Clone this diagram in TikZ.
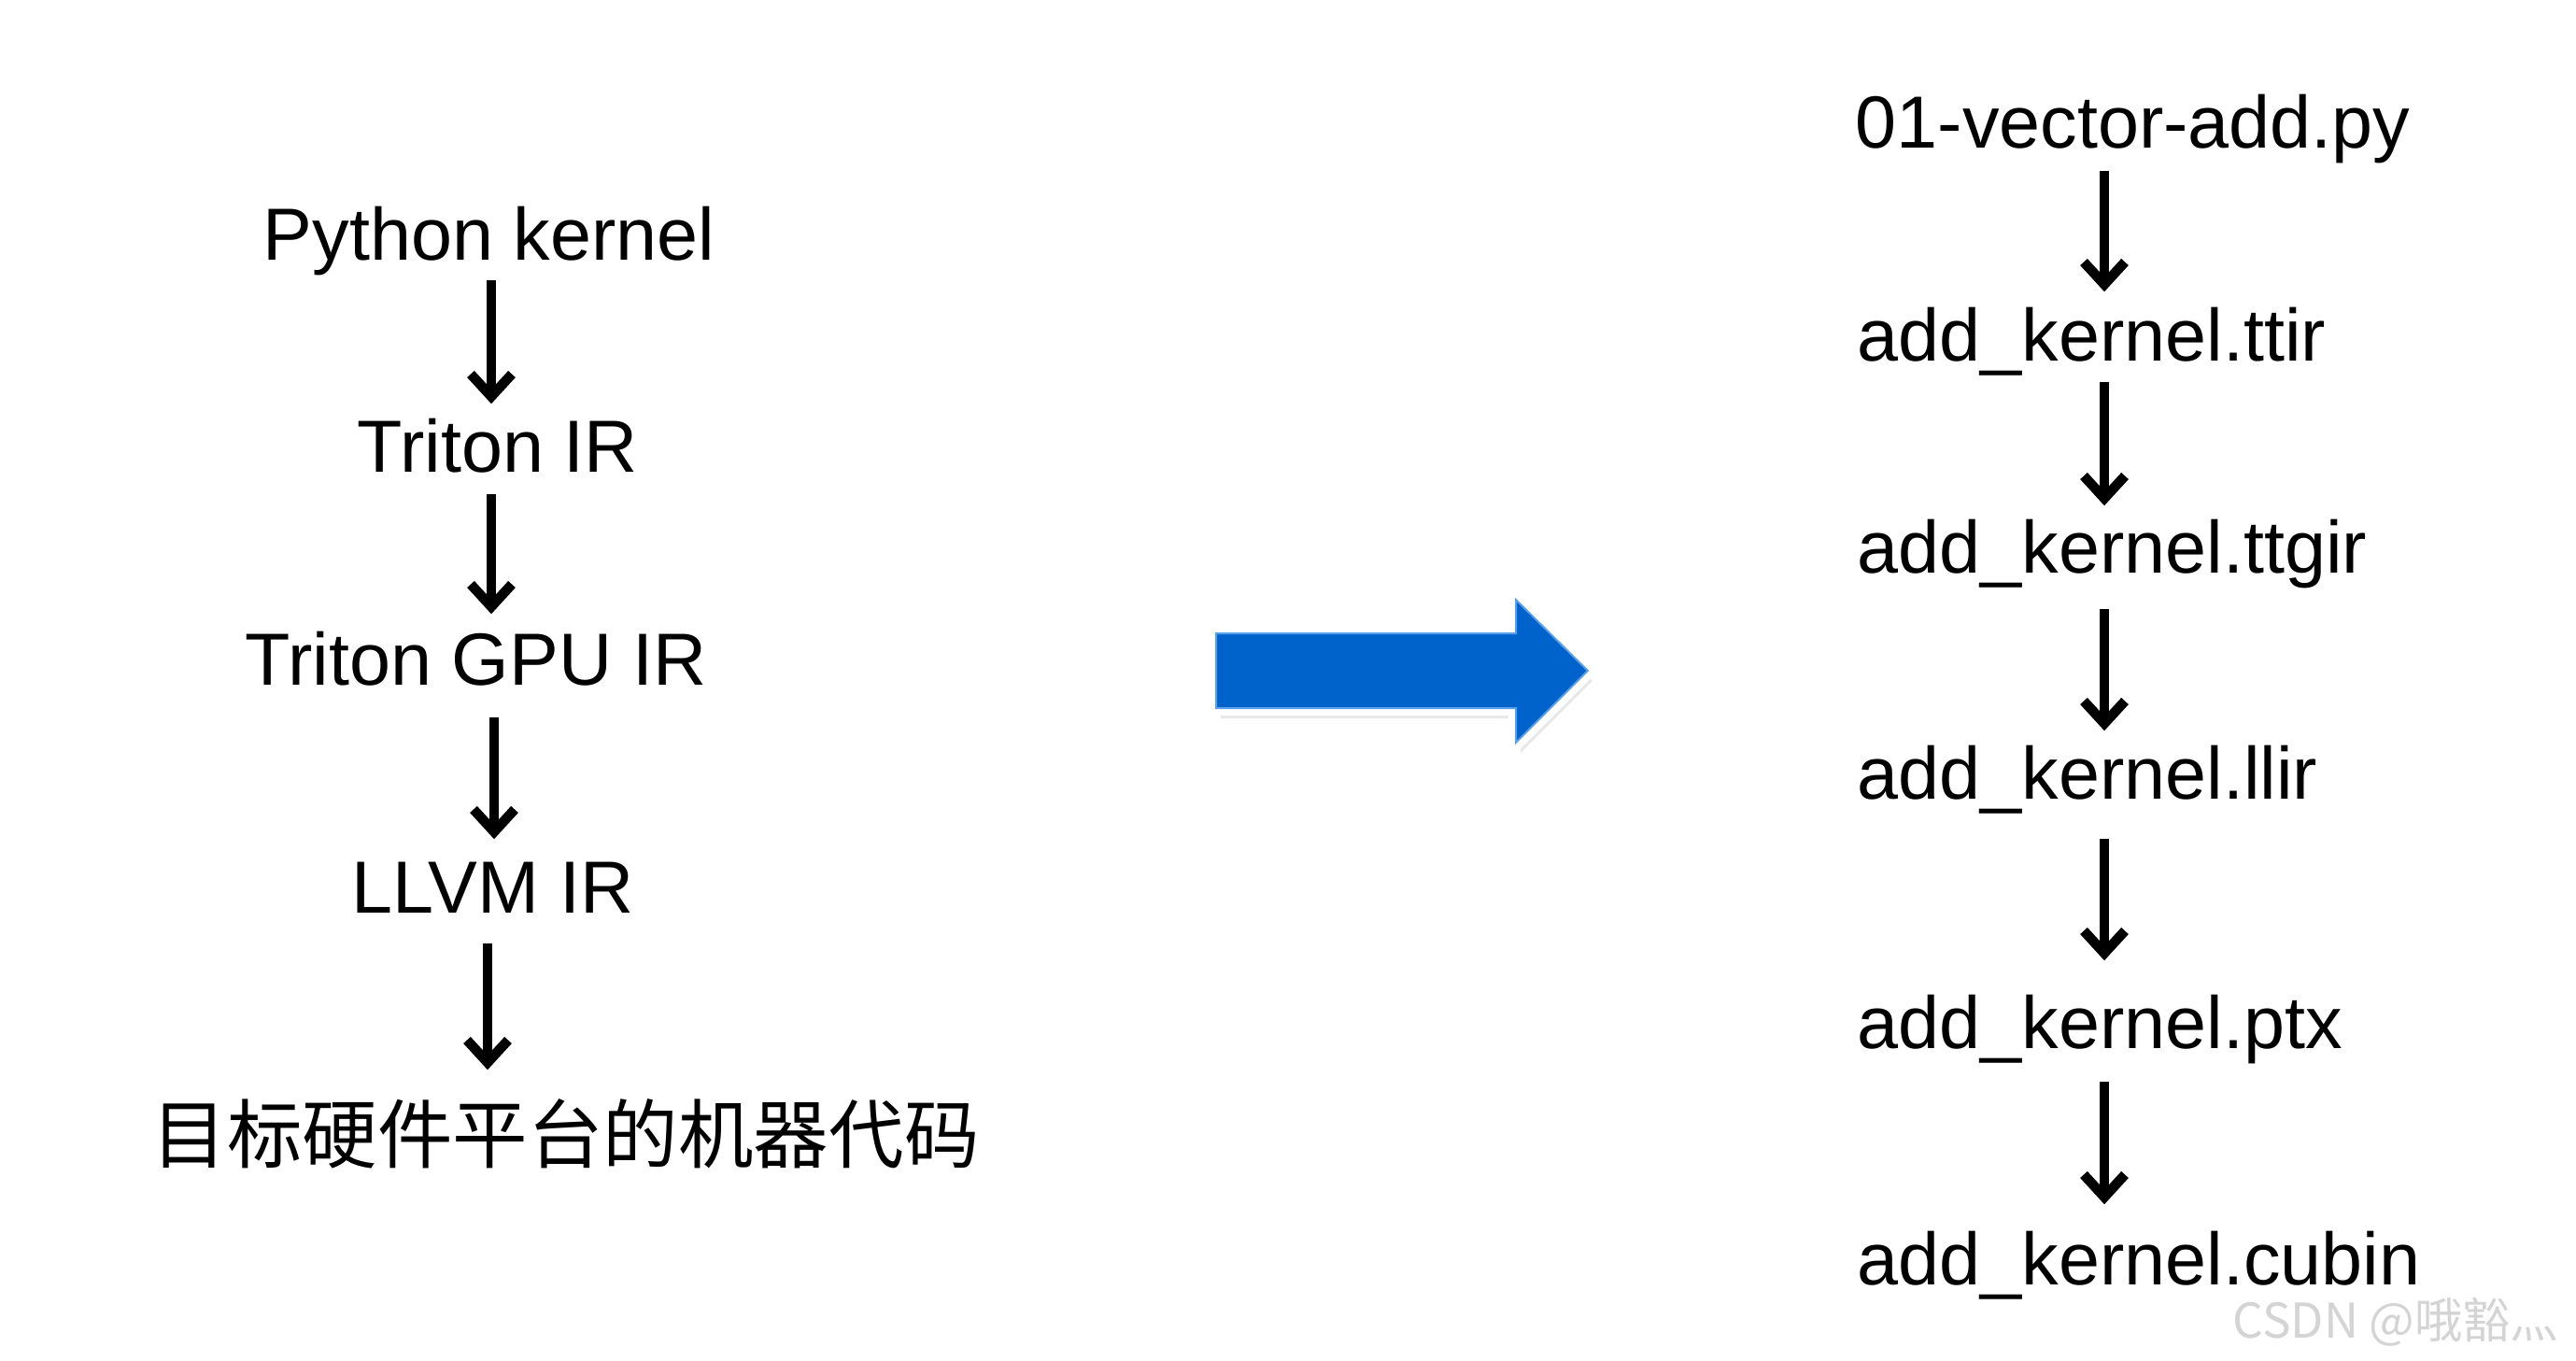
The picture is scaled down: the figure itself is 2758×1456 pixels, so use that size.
\documentclass[tikz,border=0pt]{standalone}
\usepackage{fontspec}
\setmainfont{Liberation Sans}
\newfontfamily\cjk{Noto Sans CJK SC}
\usetikzlibrary{arrows.meta}
\definecolor{arrowblue}{RGB}{0,99,204}
\definecolor{arrowedge}{RGB}{90,160,235}
\definecolor{wmgray}{RGB}{212,212,212}
\begin{document}
\begin{tikzpicture}[x=0.01cm,y=-0.01cm,
  lbl/.style={inner sep=0pt, anchor=base west, font=\fontsize{22.5}{27}\selectfont, text height=0.57cm, text depth=0.17cm},
  cjklbl/.style={inner sep=0pt, anchor=base west, font=\cjk\fontsize{22.9}{28}\selectfont, text height=0.68cm, text depth=0.06cm},
  arr/.style={line width=0.105cm, -{Straight Barb[length=0.24cm,width=0.44cm,line width=0.105cm]}},
  wm/.style={inner sep=0pt, anchor=base west, text=wmgray, font=\cjk\fontsize{14.6}{17}\selectfont}
]
\useasboundingbox (0,0) rectangle (2758,1456);
\fill[white] (0,0) rectangle (2758,1456);

% arrow columns
\coordinate (L1) at (526,0);
\coordinate (L2) at (526,0);
\coordinate (L3) at (529,0);
\coordinate (L4) at (522,0);
\coordinate (R1) at (2253,0);

% left column
\node[lbl] (pk) at (281,278) {Python kernel};
\node[lbl] (tir) at (382,505) {Triton IR};
\node[lbl] (tgir) at (262,733) {Triton GPU IR};
\node[lbl] (llvm) at (376,977) {LLVM IR};
\node[cjklbl] (mc) at (162,1244) {目标硬件平台的机器代码};

\draw[arr, shorten <=0.04cm, shorten >=0.15cm] (pk.south -| L1) -- (tir.north -| L1);
\draw[arr, shorten <=0.06cm, shorten >=0.18cm] (tir.south -| L2) -- (tgir.north -| L2);
\draw[arr, shorten <=0.17cm, shorten >=0.21cm] (tgir.south -| L3) -- (llvm.north -| L3);
\draw[arr, shorten <=0.15cm, shorten >=0.30cm] (llvm.south -| L4) -- (mc.north -| L4);

% right column
\node[lbl] (vadd) at (1986,158) {01-vector-add.py};
\node[lbl] (ttir) at (1988,386) {add\_kernel.ttir};
\node[lbl] (ttgir) at (1988,613) {add\_kernel.ttgir};
\node[lbl] (llir) at (1988,855) {add\_kernel.llir};
\node[lbl] (ptx) at (1988,1122) {add\_kernel.ptx};
\node[lbl] (cubin) at (1988,1375) {add\_kernel.cubin};

\draw[arr, shorten <=0.07cm, shorten >=0.16cm] (vadd.south -| R1) -- (ttir.north -| R1);
\draw[arr, shorten <=0.05cm, shorten >=0.14cm] (ttir.south -| R1) -- (ttgir.north -| R1);
\draw[arr, shorten <=0.21cm, shorten >=0.15cm] (ttgir.south -| R1) -- (llir.north -| R1);
\draw[arr, shorten <=0.25cm, shorten >=0.36cm] (llir.south -| R1) -- (ptx.north -| R1);
\draw[arr, shorten <=0.18cm, shorten >=0.28cm] (ptx.south -| R1) -- (cubin.north -| R1);

% big blue arrow
\begin{scope}[shift={(5,11)}]
\fill[gray!18] (1302,678) -- (1623,678) -- (1623,642) -- (1700,718) -- (1623,795) -- (1623,758) -- (1302,758) -- cycle;
\end{scope}
\begin{scope}[shift={(3,7)}]
\fill[gray!35] (1302,678) -- (1623,678) -- (1623,642) -- (1700,718) -- (1623,795) -- (1623,758) -- (1302,758) -- cycle;
\end{scope}
\draw[white, fill=white, line width=0.16cm, line join=miter] (1302,678) -- (1623,678) -- (1623,642) -- (1700,718) -- (1623,795) -- (1623,758) -- (1302,758) -- cycle;
\filldraw[fill=arrowblue, draw=arrowedge, line width=0.02cm] (1302,678) -- (1623,678) -- (1623,642) -- (1700,718) -- (1623,795) -- (1623,758) -- (1302,758) -- cycle;

% watermark
\node[wm] (wmark) at (2390,1432) {CSDN @哦豁灬};
\end{tikzpicture}
\end{document}
